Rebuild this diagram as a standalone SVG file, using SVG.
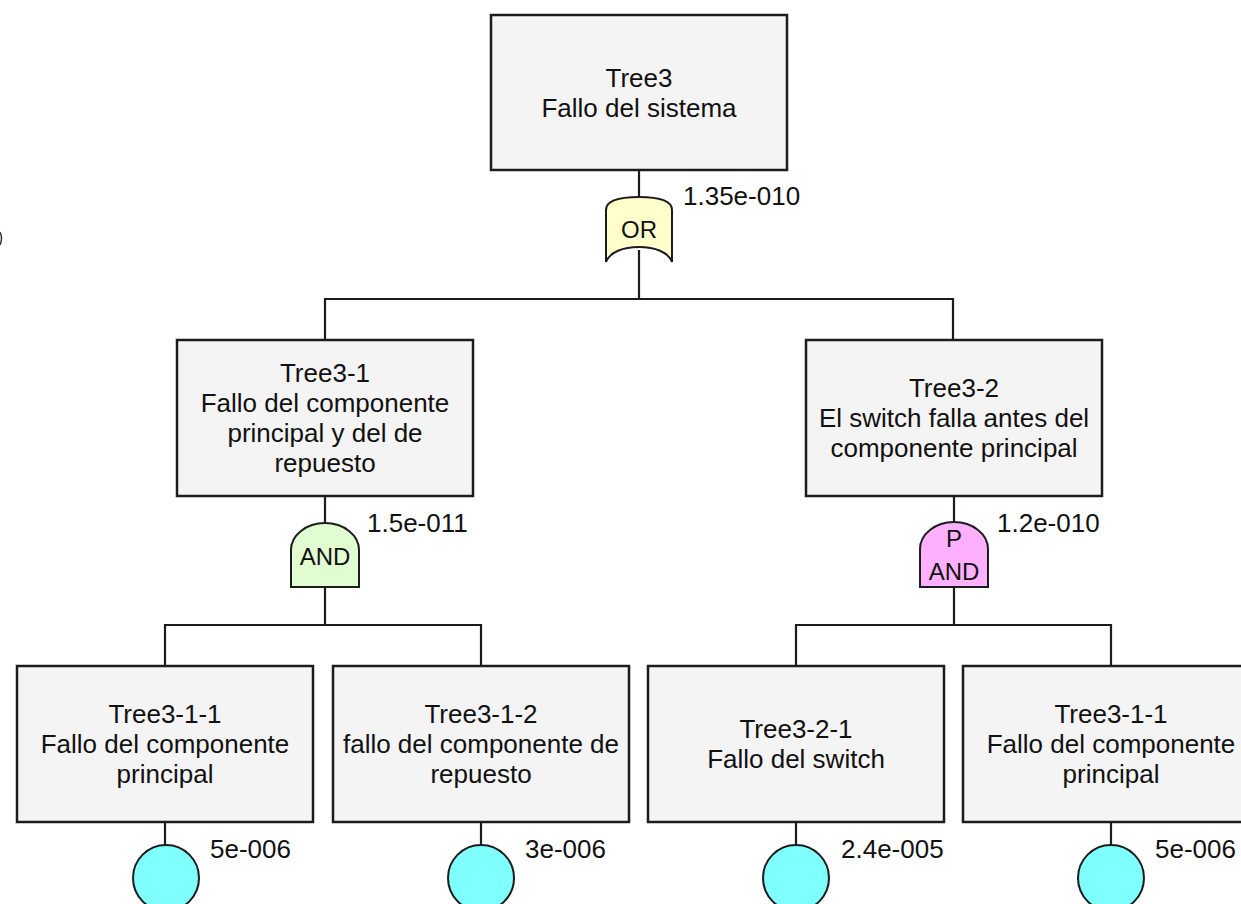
<svg xmlns="http://www.w3.org/2000/svg" width="1241" height="904" viewBox="0 0 1241 904">
  <style>
    .box { fill: #f4f4f4; stroke: #1c1c1c; stroke-width: 2.5; }
    .wire { fill: none; stroke: #1c1c1c; stroke-width: 2.2; }
    .gate { stroke: #1c1c1c; stroke-width: 2; }
    .or { fill: #ffffcc; }
    .and { fill: #e2fcd2; }
    .pand { fill: #ffb0ff; }
    .event { fill: #80ffff; stroke: #1c1c1c; stroke-width: 2; }
    text { font-family: "Liberation Sans", Arial, sans-serif; fill: #111; }
    .lbl { font-size: 26px; text-anchor: middle; }
    .prob { font-size: 26px; }
    .gt { font-size: 24px; text-anchor: middle; }
  </style>

  <!-- connectors -->
  <g id="connectors" class="wire">
    <!-- top event to OR gate and split -->
    <path d="M639,170 V197"/>
    <path d="M639,250 V299 M325,340 V299 H953 V340"/>
    <!-- Tree3-1 to AND gate and split -->
    <path d="M325,496 V523"/>
    <path d="M325,587 V625 M165,666 V625 H481 V666"/>
    <!-- Tree3-2 to PAND gate and split -->
    <path d="M954,496 V522"/>
    <path d="M954,587 V625 M796,666 V625 H1111 V666"/>
    <!-- bottom events to basic events -->
    <path d="M165,822 V845 M481,822 V845 M796,822 V845 M1111,822 V845"/>
  </g>

  <!-- small mark at the left margin -->
  <path d="M0,232 Q3,238 0,245" fill="none" stroke="#333" stroke-width="1.5"/>

  <g id="tree3">
    <rect class="box" x="491" y="15" width="296" height="155"/>
    <text class="lbl" x="639" y="87">Tree3</text>
    <text class="lbl" x="639" y="117">Fallo del sistema</text>
  </g>

  <g id="gate-or">
    <path class="gate or" d="M606,210 C606,200 620,197 639,197 C658,197 672,200 672,210 V262 C668,252 655,247 639,247 C623,247 610,252 606,262 Z"/>
    <text class="gt" x="639" y="238">OR</text>
    <text class="prob" x="683" y="205">1.35e-010</text>
  </g>

  <g id="tree3-1">
    <rect class="box" x="177" y="340" width="296" height="156"/>
    <text class="lbl" x="325" y="382">Tree3-1</text>
    <text class="lbl" x="325" y="412">Fallo del componente</text>
    <text class="lbl" x="325" y="442">principal y del de</text>
    <text class="lbl" x="325" y="472">repuesto</text>
  </g>

  <g id="gate-and">
    <path class="gate and" d="M291,587 V550 A34,27 0 0 1 359,550 V587 Z"/>
    <text class="gt" x="325" y="565">AND</text>
    <text class="prob" x="367" y="532">1.5e-011</text>
  </g>

  <g id="tree3-2">
    <rect class="box" x="806" y="340" width="296" height="156"/>
    <text class="lbl" x="954" y="397">Tree3-2</text>
    <text class="lbl" x="954" y="427">El switch falla antes del</text>
    <text class="lbl" x="954" y="457">componente principal</text>
  </g>

  <g id="gate-pand">
    <path class="gate pand" d="M920,587 V549 A34,27 0 0 1 988,549 V587 Z"/>
    <text class="gt" x="954" y="547">P</text>
    <text class="gt" x="954" y="580">AND</text>
    <text class="prob" x="997" y="532">1.2e-010</text>
  </g>

  <g id="tree3-1-1-a">
    <rect class="box" x="17" y="666" width="296" height="156"/>
    <text class="lbl" x="165" y="723">Tree3-1-1</text>
    <text class="lbl" x="165" y="753">Fallo del componente</text>
    <text class="lbl" x="165" y="783">principal</text>
    <circle class="event" cx="166" cy="878" r="33"/>
    <text class="prob" x="210" y="858">5e-006</text>
  </g>

  <g id="tree3-1-2">
    <rect class="box" x="333" y="666" width="296" height="156"/>
    <text class="lbl" x="481" y="723">Tree3-1-2</text>
    <text class="lbl" x="481" y="753">fallo del componente de</text>
    <text class="lbl" x="481" y="783">repuesto</text>
    <circle class="event" cx="481" cy="878" r="33"/>
    <text class="prob" x="525" y="858">3e-006</text>
  </g>

  <g id="tree3-2-1">
    <rect class="box" x="648" y="666" width="296" height="156"/>
    <text class="lbl" x="796" y="738">Tree3-2-1</text>
    <text class="lbl" x="796" y="768">Fallo del switch</text>
    <circle class="event" cx="796" cy="878" r="33"/>
    <text class="prob" x="841" y="858">2.4e-005</text>
  </g>

  <g id="tree3-1-1-b">
    <rect class="box" x="963" y="666" width="296" height="156"/>
    <text class="lbl" x="1111" y="723">Tree3-1-1</text>
    <text class="lbl" x="1111" y="753">Fallo del componente</text>
    <text class="lbl" x="1111" y="783">principal</text>
    <circle class="event" cx="1111" cy="878" r="33"/>
    <text class="prob" x="1155" y="858">5e-006</text>
  </g>
</svg>
